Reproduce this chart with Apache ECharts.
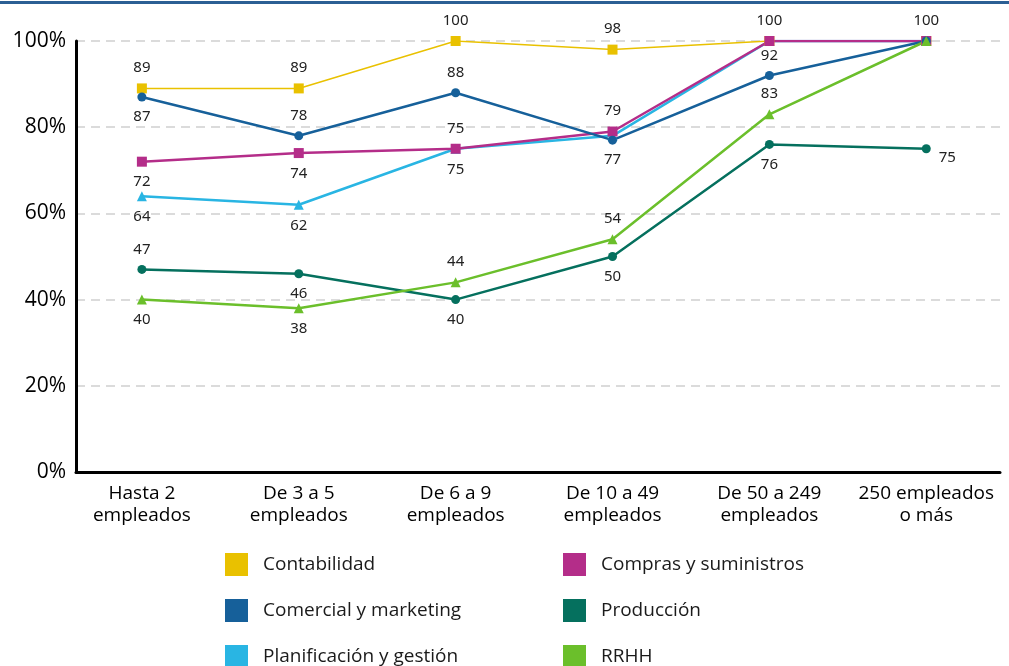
<!DOCTYPE html>
<html>
<head>
<meta charset="utf-8">
<script src="https://cdn.jsdelivr.net/npm/echarts@6/dist/echarts.min.js"></script>
<style>
  html, body { margin: 0; padding: 0; background: #fff; }
  #main { width: 1009px; height: 666px; }
</style>
</head>
<body>
<div id="main"></div>
<script>
// categorias (tamaño de empresa)
var categorias = ['Hasta 2\nempleados', 'De 3 a 5\nempleados', 'De 6 a 9\nempleados',
  'De 10 a 49\nempleados', 'De 50 a 249\nempleados', '250 empleados\no más'];

// valores (%)
var contabilidad = [89, 89, 100, 98, 100, 100];
var comercial = [87, 78, 88, 77, 92, 100];
var planificacion = [64, 62, 75, 78, 100, 100];
var compras = [72, 74, 75, 79, 100, 100];
var produccion = [47, 46, 40, 50, 76, 75];
var rrhh = [40, 38, 44, 54, 83, 100];

var yTicks = [0, 20, 40, 60, 80, 100];

// donde va cada etiqueta (null = sin etiqueta)
var posContabilidad = ['top', 'top', 'top', 'top', 'top', 'top'];
var posComercial = ['bottom', 'top', 'top', 'bottom', 'top', null];
var posPlanificacion = ['bottom', 'bottom', 'top', null, null, null];
var posCompras = ['bottom', 'bottom', 'bottom', 'top', null, null];
var posProduccion = ['top', 'bottom', 'bottom', 'bottom', 'bottom', 'right'];
var posRrhh = ['bottom', 'bottom', 'top', 'top', 'top', null];

function puntos(valores, pos) {
  return valores.map(function (v, i) {
    var p = pos[i];
    var lab = p ? { show: true, position: p } : { show: false };
    if (p === 'right') lab.offset = [0, 9];
    return { value: [i, v], label: lab };
  });
}

function serie(nombre, valores, pos, color, simbolo, size, ancho, dist) {
  return {
    name: nombre,
    type: 'line',
    data: puntos(valores, pos),
    symbol: simbolo,
    symbolSize: size,
    lineStyle: { color: color, width: ancho },
    itemStyle: { color: color },
    label: {
      distance: dist,
      color: '#222',
      fontSize: 15,
      fontFamily: 'Noto Sans',
      formatter: function (p) { return p.value[1]; }
    },
    emphasis: { disabled: true },
    z: 3
  };
}

var chart = echarts.init(document.getElementById('main'), null, { renderer: 'canvas' });

var leyenda = {
  orient: 'vertical',
  top: 553,
  height: 150,
  padding: 0,
  itemWidth: 23,
  itemHeight: 23,
  itemGap: 23,
  icon: 'rect',
  selectedMode: false,
  textStyle: { fontSize: 19, color: '#1a1a1a', fontFamily: 'Open Sans', padding: [0, 0, 0, 10] }
};

var option = {
  animation: false,
  backgroundColor: '#fff',
  graphic: [{
    type: 'rect',
    left: 0, top: 1,
    shape: { width: 1009, height: 3 },
    style: { fill: '#2b5f94' }
  }],
  grid: { left: 76, right: 9, top: 41, bottom: 194 },
  xAxis: {
    type: 'value',
    min: -0.42,
    max: 5.47,
    axisLine: { show: true, onZero: false, lineStyle: { color: '#000', width: 3 } },
    axisTick: { show: false },
    splitLine: { show: false },
    axisLabel: {
      customValues: [0, 1, 2, 3, 4, 5],
      formatter: function (v) { return categorias[Math.round(v)]; },
      color: '#000',
      fontSize: 19,
      lineHeight: 22,
      fontFamily: 'Open Sans',
      margin: 11
    }
  },
  yAxis: {
    type: 'value',
    min: yTicks[0],
    max: yTicks[yTicks.length - 1],
    interval: 20,
    axisLine: { show: true, onZero: false, lineStyle: { color: '#000', width: 3 } },
    axisTick: { show: false },
    axisLabel: {
      formatter: '{value}%',
      color: '#000',
      fontSize: 21,
      fontFamily: 'Open Sans',
      margin: 10
    },
    splitLine: {
      show: true,
      showMinLine: false,
      lineStyle: { color: '#cfcfcf', type: [9, 6], width: 1.5 }
    }
  },
  legend: [
    Object.assign({}, leyenda, { left: 225, data: ['Contabilidad', 'Comercial y marketing', 'Planificación y gestión'] }),
    Object.assign({}, leyenda, { left: 563, data: ['Compras y suministros', 'Producción', 'RRHH'] })
  ],
  series: [
    serie('Contabilidad', contabilidad, posContabilidad, '#e9c100', 'rect', 10, 1.5, 8),
    serie('Planificación y gestión', planificacion, posPlanificacion, '#29b5e3', 'triangle', 10, 2.5, 8),
    serie('Compras y suministros', compras, posCompras, '#b42d89', 'rect', 10, 2.5, 8),
    serie('Comercial y marketing', comercial, posComercial, '#16609a', 'circle', 9, 2.5, 8),
    serie('Producción', produccion, posProduccion, '#05705e', 'circle', 9, 2.5, 8),
    serie('RRHH', rrhh, posRrhh, '#6bbf2b', 'triangle', 10, 2.5, 8)
  ]
};

chart.setOption(option);
</script>
</body>
</html>
